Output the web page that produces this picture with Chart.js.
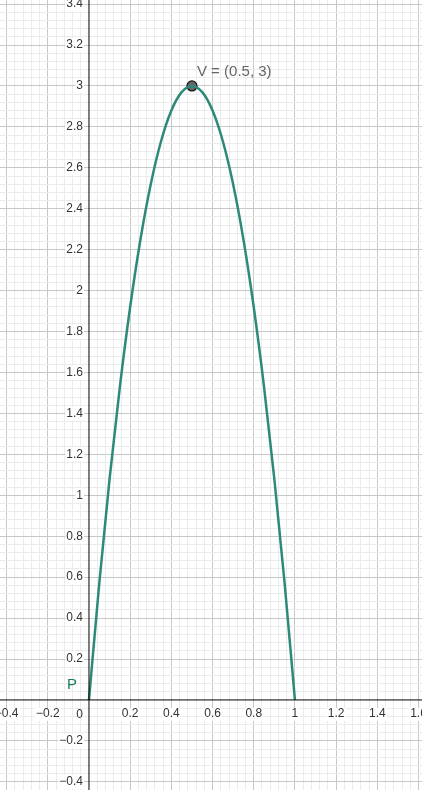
<!DOCTYPE html>
<html><head><meta charset="utf-8">
<script src="https://cdn.jsdelivr.net/npm/chart.js@4"></script>
<style>html,body{margin:0;padding:0;background:#fff}#w{width:422px;height:790px}</style>
</head><body><div id="w"><canvas id="c"></canvas></div>
<script>
const curveX = [0,0.05,0.1,0.15,0.2,0.25,0.3,0.35,0.4,0.45,0.5,0.55,0.6,0.65,0.7,0.75,0.8,0.85,0.9,0.95,1];
const curveY = [0,0.57,1.08,1.53,1.92,2.25,2.52,2.73,2.88,2.97,3,2.97,2.88,2.73,2.52,2.25,1.92,1.53,1.08,0.57,0];
const vertex = {x:0.5, y:3};
const xTicks = [-0.4,-0.2,0.2,0.4,0.6,0.8,1,1.2,1.4,1.6];
const yTicks = [-0.4,-0.2,0.2,0.4,0.6,0.8,1,1.2,1.4,1.6,1.8,2,2.2,2.4,2.6,2.8,3,3.2,3.4];
const X0=-0.432, X1=1.617, Y0=-0.44, Y1=3.42;
const isMajor=v=>Math.abs(v/0.2-Math.round(v/0.2))<1e-6;
const gridCol=ctx=>{const v=ctx.tick&&ctx.tick.value; if(v===undefined)return '#eee'; if(Math.abs(v)<1e-9)return 'rgba(0,0,0,0)'; return isMajor(v)?'#c8c8c8':'#ebebeb';};
const labels={id:'lbl',afterDraw(ch){
 const c=ch.ctx,xs=ch.scales.x,ys=ch.scales.y;const ox=xs.getPixelForValue(0),oy=ys.getPixelForValue(0);
 c.save();c.strokeStyle='#000';c.lineWidth=1;
 c.beginPath();c.moveTo(ox,0);c.lineTo(ox,ch.height);c.moveTo(0,oy);c.lineTo(ch.width,oy);c.stroke();
 c.font='12px "Liberation Sans", Arial, sans-serif';c.fillStyle='#333';
 c.textAlign='center';c.textBaseline='top';
 xTicks.forEach(v=>{const s=String(v).replace('-','\u2212');c.fillStyle='#fff';const w=c.measureText(s).width;c.fillRect(xs.getPixelForValue(v)-w/2-1,oy+8,w+2,13);c.fillStyle='#333';c.fillText(s,xs.getPixelForValue(v),oy+8);});
 c.textAlign='right';c.textBaseline='middle';
 yTicks.forEach(v=>{const s=String(v).replace('-','\u2212');c.fillStyle='#fff';const w=c.measureText(s).width;c.fillRect(ox-6-w-1,ys.getPixelForValue(v)-7,w+2,14);c.fillStyle='#333';c.fillText(s,ox-6,ys.getPixelForValue(v));});
 c.fillText('0',ox-6,oy+15);
 c.textAlign='left';c.textBaseline='alphabetic';c.font='15px "Liberation Sans", Arial, sans-serif';
 c.fillStyle='#666';c.fillText('V = (0.5, 3)',xs.getPixelForValue(vertex.x)+5,ys.getPixelForValue(vertex.y)-10);
 c.fillStyle='#1a7a5e';c.fillText('P',ox-22,oy-11);
 c.restore();}};
new Chart(document.getElementById('c'),{type:'scatter',
 data:{datasets:[
  {data:curveX.map((x,i)=>({x,y:curveY[i]})),showLine:true,borderColor:'#2e8a78',borderWidth:2.5,pointRadius:0,cubicInterpolationMode:'monotone',fill:false},
  {data:[vertex],pointRadius:5,pointBackgroundColor:'#666',pointBorderColor:'#111',pointBorderWidth:1.2}
 ]},
 options:{responsive:true,maintainAspectRatio:false,animation:false,layout:{padding:0,autoPadding:false},
  plugins:{legend:{display:false},tooltip:{enabled:false}},
  scales:{
   x:{type:'linear',min:X0,max:X1,afterFit(s){s.height=0;s.paddingLeft=0;s.paddingRight=0;},afterBuildTicks(s){const t=[];for(let v=-0.4;v<=1.6001;v+=0.04)t.push({value:+v.toFixed(2)});s.ticks=t;},ticks:{display:false,padding:0},grid:{color:gridCol,drawTicks:false},border:{display:false}},
   y:{type:'linear',min:Y0,max:Y1,afterFit(s){s.width=0;s.paddingTop=0;s.paddingBottom=0;},afterBuildTicks(s){const t=[];for(let v=-0.44;v<=3.4201;v+=0.04)t.push({value:+v.toFixed(2)});s.ticks=t;},ticks:{display:false,padding:0},grid:{color:gridCol,drawTicks:false},border:{display:false}}
  }},
 plugins:[labels]});
</script></body></html>
